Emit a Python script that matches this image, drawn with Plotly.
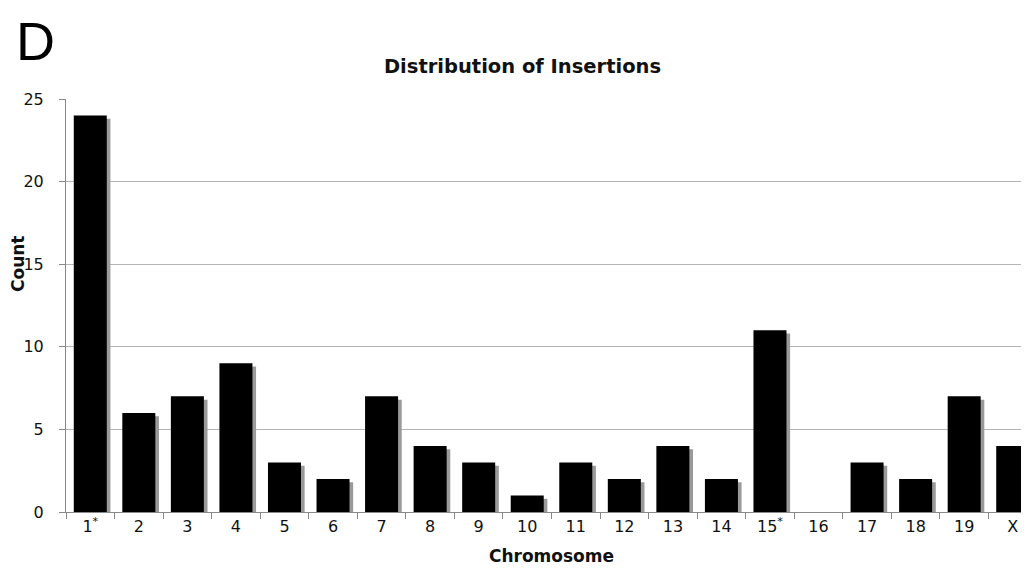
import plotly.graph_objects as go

STAR = "<sup>*</sup>"
categories = ["1" + STAR, "2", "3", "4", "5", "6", "7", "8", "9", "10",
              "11", "12", "13", "14", "15" + STAR, "16", "17", "18", "19", "X"]
counts = [24, 6, 7, 9, 3, 2, 7, 4, 3, 1, 3, 2, 4, 2, 11, 0, 3, 2, 7, 4]
y_ticks = [0, 5, 10, 15, 20, 25]

BAR_W = 0.68
SHADOW_DX = 0.075
SHADOW_DY = 0.2

fig = go.Figure()
# shadow
fig.add_trace(go.Bar(
    x=categories, y=[max(c - SHADOW_DY, 0) if c > 0 else 0 for c in counts],
    width=BAR_W, offset=-BAR_W / 2 + SHADOW_DX,
    marker=dict(color="#9a9a9a", line=dict(width=0)),
    hoverinfo="skip", showlegend=False))
# main bars
fig.add_trace(go.Bar(
    x=categories, y=counts,
    width=BAR_W, offset=-BAR_W / 2,
    marker=dict(color="#000000", line=dict(width=0)),
    showlegend=False))

fig.update_layout(
    width=1029, height=571,
    barmode="overlay",
    plot_bgcolor="white", paper_bgcolor="white",
    margin=dict(l=58, r=0, t=91, b=67, autoexpand=False),
    font=dict(family="DejaVu Sans", size=16, color="#111111"),
    title=dict(text="<b>Distribution of Insertions</b>", x=0.5, xref="container",
               y=1 - 58 / 571, yref="container", yanchor="middle",
               font=dict(size=19.5, family="DejaVu Sans", color="#111111")),
    xaxis=dict(
        type="category", showgrid=False, showline=True, linecolor="#888888", linewidth=1,
        ticks="outside", tickson="boundaries", ticklen=6, tickcolor="#888888",
        tickfont=dict(size=16, family="DejaVu Sans"), automargin=False,
        title=dict(text="<b>Chromosome</b>", font=dict(size=17, family="DejaVu Sans"), standoff=14),
    ),
    yaxis=dict(
        range=[0, 25], tickvals=y_ticks, showgrid=True, gridcolor="#b4b4b4", gridwidth=1,
        showline=True, linecolor="#888888", linewidth=1, zeroline=False,
        ticks="outside", ticklen=6, tickcolor="#888888", automargin=False,
        tickfont=dict(size=16, family="DejaVu Sans"), ticklabelstandoff=12,
        title=dict(text=""),
    ),
    annotations=[
        dict(text="D", x=6, y=571 - 33, xref="paper", yref="paper", showarrow=False,
             font=dict(family="Liberation Sans", size=54, color="#000000"),
             xanchor="left", yanchor="middle"),
        dict(text="<b>Count</b>", x=10, y=571 - 256, xref="paper", yref="paper",
             showarrow=False, textangle=-90,
             font=dict(family="DejaVu Sans", size=17, color="#111111"),
             xanchor="center", yanchor="middle"),
    ],
)

# convert pixel-based annotation positions to paper coords
pw = 1029 - 58 - 0
ph = 571 - 91 - 67
for a in fig.layout.annotations:
    a.x = (a.x - 58) / pw
    a.y = (a.y - 67) / ph

fig.write_html("out.html")
